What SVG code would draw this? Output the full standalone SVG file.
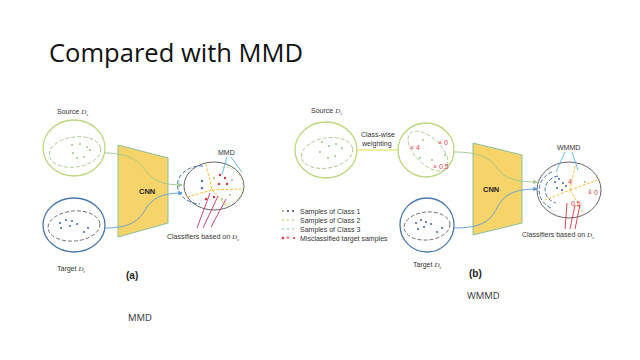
<svg xmlns="http://www.w3.org/2000/svg" width="640" height="360" viewBox="0 0 640 360">
<defs>
<style>
.lbl{font-family:"Liberation Sans",Arial,sans-serif;font-size:7px;fill:#333}
.math{font-family:"Liberation Serif",serif;font-style:italic}
.src{fill:none;stroke:#bcd77f;stroke-width:1.3}
.tgt{fill:none;stroke:#4a78ac;stroke-width:1.3}
.dsrc{fill:none;stroke:#a9c48c;stroke-width:0.9;stroke-dasharray:4 2}
.dtgt{fill:none;stroke:#666;stroke-width:0.9;stroke-dasharray:4 2}
.cnn{fill:#f6d46a;stroke:#8bbf9a;stroke-width:1}
.cls{fill:none;stroke:#555;stroke-width:0.9}
.gcurve{fill:none;stroke:#9fc58d;stroke-width:0.9}
.bcurve{fill:none;stroke:#5b9bd5;stroke-width:0.9}
.ydash{fill:none;stroke:#f0c23a;stroke-width:1;stroke-dasharray:3 1.5}
.lg{fill:none;stroke:#b9d98a;stroke-width:0.8;stroke-dasharray:3 1.5}
.bdash{fill:none;stroke:#3f6fb0;stroke-width:1;stroke-dasharray:4 2}
.mline{stroke:#c2306c;stroke-width:0.9}
.rline{stroke:#d2353f;stroke-width:0.9}
.bline{stroke:#45aee0;stroke-width:0.8}
.gd{fill:#9cc587}
.bd{fill:#4a6fa0}
.rd{fill:#d8303c}
.red{font-family:"Liberation Sans",Arial,sans-serif;font-size:7px;fill:#e04050}
</style>
<marker id="arr" viewBox="0 0 6 6" refX="5" refY="3" markerWidth="5" markerHeight="5" orient="auto">
<path d="M0,0 L6,3 L0,6 z" fill="#5b9bd5"/>
</marker>
<marker id="arrg" viewBox="0 0 6 6" refX="5" refY="3" markerWidth="5" markerHeight="5" orient="auto">
<path d="M0,0 L6,3 L0,6 z" fill="#9fc58d"/>
</marker>
</defs>
<rect width="640" height="360" fill="#ffffff"/>
<text x="49" y="62" font-family="'Open Sans',sans-serif" font-size="26" fill="#111" textLength="254" lengthAdjust="spacingAndGlyphs">Compared with MMD</text>

<!-- ===== (a) ===== -->
<g id="a-source">
<text class="lbl" x="57" y="114">Source <tspan class="math">D</tspan><tspan class="math" font-size="5" dy="1.5">s</tspan></text>
<ellipse class="src" cx="74" cy="148" rx="31" ry="28"/>
<ellipse class="dsrc" cx="75" cy="152" rx="26" ry="15" transform="rotate(-8 75 152)"/>
<circle class="gd" cx="72" cy="145" r="1"/><circle class="gd" cx="80" cy="144" r="1"/><circle class="gd" cx="87" cy="147" r="1"/>
<circle class="gd" cx="73" cy="153" r="1"/><circle class="gd" cx="77" cy="158" r="1"/><circle class="gd" cx="84" cy="157" r="1"/><circle class="gd" cx="90" cy="150" r="1"/>
</g>
<g id="a-target">
<ellipse class="tgt" cx="74" cy="225" rx="31" ry="27"/>
<ellipse class="dtgt" cx="74" cy="226" rx="26" ry="15" transform="rotate(-5 74 226)"/>
<circle class="bd" cx="60" cy="223" r="1.1"/><circle class="bd" cx="66" cy="220" r="1.1"/><circle class="bd" cx="72" cy="221" r="1.1"/>
<circle class="bd" cx="70" cy="226" r="1.1"/><circle class="bd" cx="77" cy="224" r="1.1"/><circle class="bd" cx="61" cy="228" r="1.1"/>
<circle class="bd" cx="84" cy="232" r="1.1"/><circle class="bd" cx="88" cy="228" r="1.1"/>
<text class="lbl" x="57" y="271">Target <tspan class="math">D</tspan><tspan class="math" font-size="5" dy="1.5">t</tspan></text>
</g>
<g id="a-cnn">
<path class="cnn" d="M118,145 L168,158 L168,223 L118,237 Z"/>
<text x="139" y="194" font-family="'Liberation Sans',Arial,sans-serif" font-size="7.5" font-weight="bold" fill="#222">CNN</text>
</g>
<g id="a-classifier">
<ellipse class="cls" cx="214" cy="186" rx="30" ry="24"/>
<path class="bdash" d="M203,166 A24,19 0 0 0 200,204"/>
<path class="lg" d="M222,167 A20,19 0 0 1 224,205"/>
<path class="ydash" d="M206,164 L212,190 L187,197 M212,190 L228,207 M212,190 L241,189"/>
<circle class="bd" cx="202" cy="181" r="1.2"/><circle class="bd" cx="202" cy="188" r="1.2"/>
<circle class="rd" cx="220" cy="175" r="1.2"/><circle class="rd" cx="225" cy="178" r="1.2"/><circle class="rd" cx="227" cy="184" r="1.2"/><circle class="rd" cx="219" cy="184" r="1.2"/>
<circle class="rd" cx="206" cy="199" r="1.2"/><circle class="rd" cx="214" cy="197" r="1.2"/>
<circle class="gd" cx="214" cy="178" r="1"/><circle class="gd" cx="232" cy="180" r="1"/><circle class="gd" cx="222" cy="199" r="1"/><circle class="gd" cx="230" cy="195" r="1"/>
<text class="lbl" x="218" y="155">MMD</text>
<line class="bline" x1="227" y1="157" x2="222" y2="175"/>
<line class="bline" x1="231" y1="157" x2="242" y2="172"/>
<line class="mline" x1="197" y1="228" x2="210" y2="193"/>
<line class="mline" x1="203" y1="228" x2="218" y2="196"/>
<line class="mline" x1="211" y1="227" x2="226" y2="199"/>
<text class="lbl" x="167" y="239">Classifiers based on <tspan class="math">D</tspan><tspan class="math" font-size="5" dy="1.5">s</tspan></text>
</g>
<g id="a-connectors">
<path class="gcurve" d="M105,153 C128,153 138,160 145,170 S162,185 182,185" marker-end="url(#arrg)"/>
<path class="bcurve" d="M105,228 C128,228 138,222 145,210 S162,193 182,193" marker-end="url(#arr)"/>
</g>
<text x="126" y="279" font-family="'Liberation Sans',Arial,sans-serif" font-size="10" font-weight="bold" fill="#222">(a)</text>
<text x="128" y="321" font-family="'Open Sans',sans-serif" font-size="9.5" fill="#333">MMD</text>

<!-- ===== (b) ===== -->
<g id="b-source">
<text class="lbl" x="311" y="113">Source <tspan class="math">D</tspan><tspan class="math" font-size="5" dy="1.5">s</tspan></text>
<ellipse class="src" cx="326" cy="150" rx="31" ry="28"/>
<ellipse class="dsrc" cx="327" cy="153" rx="26" ry="15" transform="rotate(-10 327 153)"/>
<circle class="gd" cx="322" cy="142" r="1"/><circle class="gd" cx="329" cy="146" r="1"/><circle class="gd" cx="336" cy="144" r="1"/>
<circle class="gd" cx="320" cy="152" r="1"/><circle class="gd" cx="328" cy="158" r="1"/><circle class="gd" cx="335" cy="156" r="1"/><circle class="gd" cx="342" cy="148" r="1"/>
</g>
<g id="b-weighted">
<ellipse class="src" cx="426" cy="150" rx="28" ry="27"/>
<ellipse class="dsrc" cx="428" cy="151" rx="25" ry="13" transform="rotate(45 428 151)"/>
<text class="red" x="410" y="150">× 4</text>
<text class="red" x="438" y="145">× 0</text>
<text class="red" x="433" y="169">× 0.5</text>
<circle class="gd" cx="423" cy="140" r="1"/><circle class="gd" cx="432" cy="160" r="1"/><circle class="gd" cx="445" cy="155" r="1"/><circle class="gd" cx="420" cy="158" r="1"/>
</g>
<g id="b-target">
<ellipse class="tgt" cx="427" cy="225" rx="27" ry="27"/>
<ellipse class="dtgt" cx="427" cy="226" rx="23" ry="14" transform="rotate(-5 427 226)"/>
<circle class="bd" cx="416" cy="223" r="1.1"/><circle class="bd" cx="421" cy="220" r="1.1"/><circle class="bd" cx="426" cy="222" r="1.1"/>
<circle class="bd" cx="424" cy="227" r="1.1"/><circle class="bd" cx="431" cy="224" r="1.1"/><circle class="bd" cx="418" cy="229" r="1.1"/>
<circle class="bd" cx="437" cy="232" r="1.1"/><circle class="bd" cx="442" cy="228" r="1.1"/>
<text class="lbl" x="413" y="267">Target <tspan class="math">D</tspan><tspan class="math" font-size="5" dy="1.5">t</tspan></text>
</g>
<g id="b-cnn">
<path class="cnn" d="M473,143 L522,155 L522,223 L473,235 Z"/>
<text x="483" y="192" font-family="'Liberation Sans',Arial,sans-serif" font-size="7.5" font-weight="bold" fill="#222">CNN</text>
</g>
<g id="b-classifier">
<ellipse class="cls" cx="569" cy="190" rx="32" ry="28"/>
<path class="bdash" d="M552,172 A22,20 0 0 0 551,208"/>
<path class="bdash" d="M558,176 A16,14 0 0 0 556,203"/>
<path class="ydash" d="M575,166 L570,190 L545,200 M570,190 L583,213 M570,190 L598,180"/>
<circle class="bd" cx="555" cy="182" r="1.1"/><circle class="bd" cx="559" cy="179" r="1.1"/><circle class="bd" cx="563" cy="183" r="1.1"/>
<circle class="bd" cx="557" cy="188" r="1.1"/><circle class="bd" cx="562" cy="190" r="1.1"/><circle class="bd" cx="566" cy="186" r="1.1"/>
<circle class="gd" cx="585" cy="182" r="1"/><circle class="gd" cx="590" cy="190" r="1"/><circle class="gd" cx="578" cy="206" r="1"/>
<text class="red" x="568" y="184">4</text>
<text class="red" x="588" y="195">× 0</text>
<text class="red" x="571" y="206">0.5</text>
<text class="lbl" x="557" y="150">WMMD</text>
<line class="bline" x1="565" y1="152" x2="556" y2="172"/>
<line class="bline" x1="572" y1="152" x2="578" y2="170"/>
<line class="rline" x1="565" y1="229" x2="567" y2="203"/>
<line class="rline" x1="570" y1="229" x2="575" y2="205"/>
<line class="rline" x1="575" y1="229" x2="580" y2="205"/>
<text class="lbl" x="522" y="237">Classifiers based on <tspan class="math">D</tspan><tspan class="math" font-size="5" dy="1.5">s</tspan></text>
</g>
<g id="b-legend">
<circle cx="283" cy="211" r="0.9" fill="#7aa55a"/><circle cx="288" cy="211" r="1" fill="#345"/><circle cx="293" cy="211" r="1" fill="#345"/>
<circle cx="283" cy="220" r="0.9" fill="#c8d86a"/><circle cx="288" cy="220" r="1" fill="#c8d86a"/><circle cx="293" cy="220" r="1" fill="none" stroke="#aabb88" stroke-width="0.5"/>
<circle cx="283" cy="229" r="0.9" fill="#9fd4b0"/><circle cx="288" cy="229" r="1" fill="#9fd4b0"/><circle cx="293" cy="229" r="1" fill="none" stroke="#9fc5b0" stroke-width="0.5"/>
<circle cx="283" cy="238" r="1.2" fill="#d8303c"/><text class="red" x="286" y="240" font-size="6">× ∘</text>
<text class="lbl" x="300" y="214">Samples of Class 1</text>
<text class="lbl" x="300" y="223">Samples of Class 2</text>
<text class="lbl" x="300" y="232">Samples of Class 3</text>
<text class="lbl" x="300" y="241">Misclassified target samples</text>
</g>
<g id="b-connectors">
<path d="M357,150 L398,150" fill="none" stroke="#e8de3e" stroke-width="1.2"/>
<text class="lbl" x="361" y="137">Class-wise</text>
<text class="lbl" x="362" y="146">weighting</text>
<path class="gcurve" d="M454,152 C480,152 490,158 497,168 S515,182 537,182" marker-end="url(#arrg)"/>
<path class="bcurve" d="M454,228 C480,228 490,222 497,208 S515,189 537,189" marker-end="url(#arr)"/>
</g>
<text x="469" y="277" font-family="'Liberation Sans',Arial,sans-serif" font-size="10" font-weight="bold" fill="#222">(b)</text>
<text x="467" y="299" font-family="'Open Sans',sans-serif" font-size="9.5" fill="#333">WMMD</text>
</svg>
